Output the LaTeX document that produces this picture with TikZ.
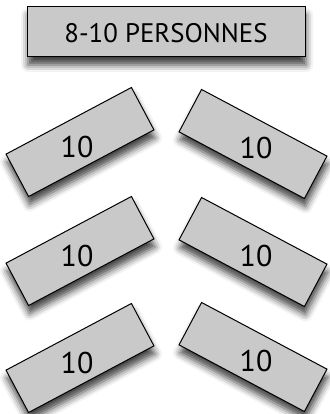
\documentclass[tikz,border=0pt]{standalone}
\usepackage{fontspec}
\setmainfont{PT Sans}
\usetikzlibrary{shadows.blur}
\definecolor{tblGrey}{HTML}{C9C9C9}
\tikzset{
  softshadow/.style = {blur shadow={shadow xshift=1pt, shadow yshift=-8pt,
                        shadow blur radius=7pt, shadow opacity=75}},
  headbox/.style    = {draw, line width=1pt, fill=tblGrey, softshadow,
                       minimum width=278pt, minimum height=50pt, inner sep=0pt},
  tablebox/.style   = {draw, line width=1pt, fill=tblGrey, softshadow,
                       minimum width=142pt, minimum height=48pt, inner sep=0pt},
  lefttbl/.style    = {tablebox, rotate=28},
  righttbl/.style   = {tablebox, rotate=-28},
  headlbl/.style    = {font=\fontsize{26.8}{28}\selectfont},
  seatlbl/.style    = {font=\fontsize{30}{30}\selectfont},
}

\begin{document}
\begin{tikzpicture}[x=1pt, y=1pt]
  \useasboundingbox (0,0) rectangle (329,414);

  \node[headbox] (head) at (166,382) {};
  \node[headlbl, yshift=-1pt] (headtxt) at (head.center) {8-10 PERSONNES};

  % left column
  \node[lefttbl] (tL1) at (80,272) {};
  \node[lefttbl] (tL2) at (80,163) {};
  \node[lefttbl] (tL3) at (80,56) {};
  % right column
  \node[righttbl] (tR1) at (253,270) {};
  \node[righttbl] (tR2) at (253,162) {};
  \node[righttbl] (tR3) at (253,57) {};

  \node[seatlbl, xshift=-3pt, yshift=-5pt] (nL1) at (tL1.center) {10};
  \node[seatlbl, xshift=-3pt, yshift=-5pt] (nL2) at (tL2.center) {10};
  \node[seatlbl, xshift=-3pt, yshift=-5pt] (nL3) at (tL3.center) {10};
  \node[seatlbl, xshift=3pt, yshift=-4pt] (nR1) at (tR1.center) {10};
  \node[seatlbl, xshift=3pt, yshift=-4pt] (nR2) at (tR2.center) {10};
  \node[seatlbl, xshift=3pt, yshift=-4pt] (nR3) at (tR3.center) {10};
\end{tikzpicture}
\end{document}
